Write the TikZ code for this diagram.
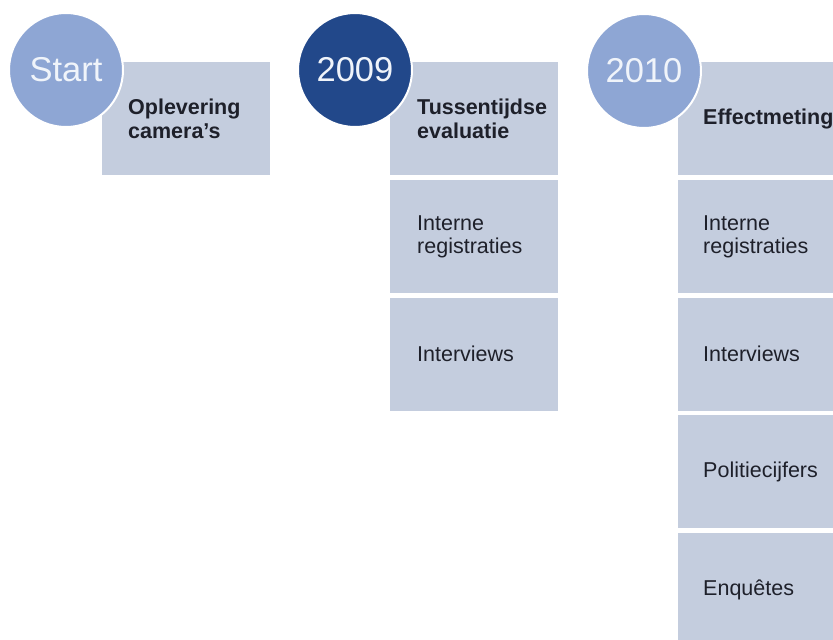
\documentclass[tikz,border=0pt]{standalone}
\usepackage{fontspec}
\setmainfont{Liberation Sans}
\definecolor{boxfill}{RGB}{196,205,222}
\definecolor{lightcirc}{RGB}{142,166,212}
\definecolor{darkcirc}{RGB}{34,72,138}
\definecolor{circtext}{RGB}{240,244,250}
\definecolor{celltextcol}{RGB}{30,32,42}
\begin{document}
\begin{tikzpicture}[x=1pt,y=-1pt,
  cell/.style={rectangle, fill=boxfill, draw=none, minimum width=168pt, minimum height=113pt, inner sep=0pt, anchor=north west},
  yearcirc/.style={circle, draw=white, line width=2pt, minimum size=114pt, inner sep=0pt, text=circtext, font=\fontsize{34.5}{37}\selectfont},
  celltext/.style={anchor=west, align=left, inner sep=0pt, text=celltextcol, font=\fontsize{21.5}{23.5}\selectfont},
  boldtext/.style={celltext, font=\bfseries\fontsize{21.5}{24}\selectfont}]
\useasboundingbox (0,0) rectangle (833,640);
\clip (0,0) rectangle (833,640);
\fill[white] (0,0) rectangle (833,640);
% column 1
\node[cell] (b11) at (102,62) {};
% column 2
\node[cell] (b21) at (390,62) {};
\node[cell] (b22) at (390,180) {};
\node[cell] (b23) at (390,297.5) {};
% column 3
\node[cell] (b31) at (678,62) {};
\node[cell] (b32) at (678,180) {};
\node[cell] (b33) at (678,297.5) {};
\node[cell] (b34) at (678,415) {};
\node[cell] (b35) at (678,533) {};
% texts
\node[boldtext] (t11) at ([xshift=26pt]b11.west) {Oplevering\\camera's};
\node[boldtext] (t21) at ([xshift=27pt]b21.west) {Tussentijdse\\evaluatie};
\node[celltext] (t22) at ([xshift=27pt]b22.west) {Interne\\registraties};
\node[celltext] (t23) at ([xshift=27pt]b23.west) {Interviews};
\node[boldtext] (t31) at ([xshift=25pt]b31.west) {Effectmeting};
\node[celltext] (t32) at ([xshift=25pt]b32.west) {Interne\\registraties};
\node[celltext] (t33) at ([xshift=25pt]b33.west) {Interviews};
\node[celltext] (t34) at ([xshift=25pt]b34.west) {Politiecijfers};
\node[celltext] (t35) at ([xshift=25pt]b35.west) {Enquêtes};
% circles
\node[yearcirc, fill=lightcirc] (c1) at (66,70) {Start};
\node[yearcirc, fill=darkcirc] (c2) at (355,70) {2009};
\node[yearcirc, fill=lightcirc] (c3) at (644,71) {2010};
\end{tikzpicture}
\end{document}
